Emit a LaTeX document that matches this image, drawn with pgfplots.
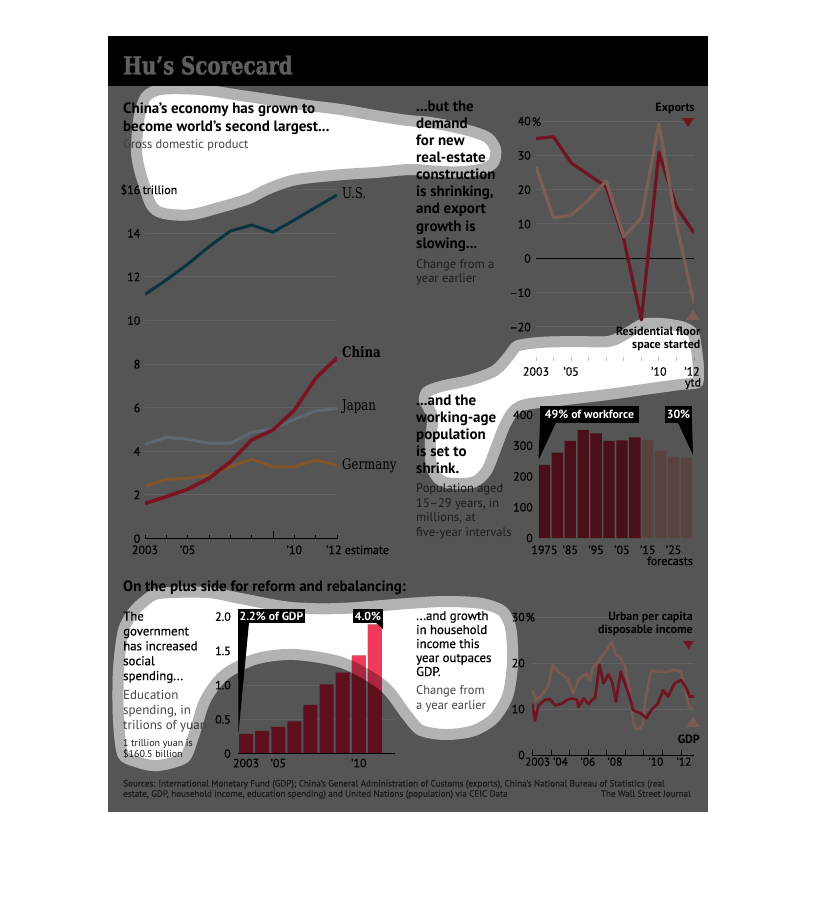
\documentclass[border=0pt]{standalone}
\usepackage{pgfplots}
\pgfplotsset{compat=1.18}
\usepackage{fontspec}
\setmainfont{PT Sans}
\newfontfamily\med[FakeBold=0.6]{PT Sans}
\newfontfamily\slab[FakeStretch=0.8]{DejaVu Serif}
\newfontfamily\slabT[FakeStretch=0.8,FakeBold=1.5]{DejaVu Serif}

\definecolor{bg}{HTML}{555555}
\definecolor{ttl}{HTML}{5F5F5F}
\definecolor{us}{HTML}{0A3540}
\definecolor{cn}{HTML}{7A1423}
\definecolor{jp}{HTML}{5D6872}
\definecolor{de}{HTML}{80552C}
\definecolor{ex}{HTML}{701422}
\definecolor{rs}{HTML}{7C5E54}
\definecolor{popA}{HTML}{4A0F19}
\definecolor{popB}{HTML}{5A423E}
\definecolor{eduA}{HTML}{5C111D}
\definecolor{eduB}{HTML}{F03A5C}
\definecolor{gdpc}{HTML}{7A5A50}
\definecolor{tkg}{HTML}{C4C4C4}
\definecolor{gA}{HTML}{444444}
\definecolor{gB}{HTML}{1C1C1C}

\newcommand\hd{\fontsize{15}{17}\selectfont\bfseries}
\newcommand\tx{\fontsize{12.5}{15}\selectfont}
\newcommand\tk{\med\fontsize{12}{12}\selectfont}
\newcommand\tks{\med\fontsize{11.5}{12}\selectfont}
\newcommand\lgd{\fontsize{12}{13}\selectfont\bfseries}
\newcommand\smt{\fontsize{10}{11}\selectfont}
\newcommand\src{\med\fontsize{9.1}{10.5}\selectfont}
\newcommand\cl{\fontsize{11.8}{12}\selectfont\bfseries}
\newcommand\srf{\slab\fontsize{14.7}{15}\selectfont}
\newcommand\bt{\med\fontsize{12.8}{15}\selectfont}

\newcommand\T[5][]{\node[anchor=base west,inner sep=0pt,font=#2,#1] at (#3,-#4) {#5};}
\newcommand\TR[5][]{\node[anchor=base east,inner sep=0pt,font=#2,#1] at (#3,-#4) {#5};}

\tikzset{
 blobA/.style={insert path={plot[smooth cycle] coordinates{(131,-150) (134,-115) (142,-93) (160,-84) (200,-84) (241,-90) (275,-95) (308,-100) (341,-104) (375,-110) (408,-115) (430,-117) (452,-121) (476,-127) (492,-134) (501,-148) (499,-164) (488,-173) (465,-177) (440,-177) (410,-175) (375,-178) (343,-180) (297,-185) (270,-194) (250,-204) (220,-213) (193,-220) (170,-220) (155,-216) (146,-207) (140,-190) (134,-170)}}},
 blobC/.style={insert path={plot[smooth cycle] coordinates{(505,-352) (515,-341) (540,-337) (575,-336) (608,-336) (625,-328) (641,-319) (661,-318) (685,-322) (698,-331) (702,-350) (704,-372) (701,-387) (680,-390) (658,-393) (608,-400) (558,-406) (523,-411) (511,-425) (501,-450) (491,-474) (476,-487) (451,-489) (435,-483) (426,-467) (425,-440) (427,-418) (419,-401) (423,-388) (440,-381) (468,-375) (492,-366)}}},
 blobD/.style={insert path={plot[smooth cycle] coordinates{(128,-610) (141,-597) (158,-588) (208,-587) (241,-593) (291,-602) (341,-603) (408,-598) (445,-596) (482,-598) (506,-607) (516,-627) (518,-662) (513,-697) (498,-722) (475,-736) (445,-740) (418,-735) (402,-718) (380,-690) (341,-668) (295,-660) (258,-664) (228,-679) (210,-703) (199,-737) (188,-762) (158,-771) (135,-767) (118,-757) (113,-720) (113,-670) (118,-630)}}},
}

\pgfplotsset{
 wsj/.style={scale only axis, anchor=south west, axis line style={draw=none},
  tick label style={font=\tk}, /pgf/number format/assume math mode=true,
  ytick style={draw=none}, xtick pos=bottom, tick align=inside,
  grid style={white, opacity=0.08, line width=1pt},
  xticklabel style={anchor=base, inner sep=0pt},
  yticklabel style={anchor=base east, inner sep=0pt, yshift=-4.3pt}},
 eduGeom/.style={wsj, at={(238pt,-753.5pt)}, width=157pt, height=137pt,
  xmin=-0.5, xmax=9.245, ymin=0, ymax=2},
}

\begin{document}
\begin{tikzpicture}[x=1pt,y=1pt]
\path[use as bounding box] (0,0) rectangle (816,-906);
\fill[white] (0,0) rectangle (816,-906);
\fill[bg] (108,-36) rectangle (708,-812);
\fill[white,blobA];
\fill[white,blobC];
\fill[white,blobD];

% ---------- GDP ----------
\T{\hd}{123}{113}{China’s economy has grown to}
\T{\hd}{123}{131}{become world’s second largest...}
\T[text=gA]{\tx}{123}{148}{Gross domestic product}
\begin{axis}[wsj, at={(145pt,-538.5pt)}, width=192pt, height=348.8pt,
 xmin=2003, xmax=2012, ymin=0, ymax=16,
 ytick={0,2,4,6,8,10,12,14,16}, yticklabels={0,2,4,6,8,10,12,14,\$16},
 yticklabel style={xshift=-4.5pt}, ymajorgrids,
 xtick={2003,2004,2005,2006,2007,2008,2009,2010,2011,2012}, xticklabels={2003,,’05,,,,,’10,,},
 xticklabel style={yshift=-15.5pt},
 major tick length=4pt, xtick style={black, line width=0.8pt},
 extra x ticks={2009}, extra x tick labels={}, extra x tick style={major tick length=8pt}]
\draw[black, line width=0.9pt] (rel axis cs:0,0) -- (rel axis cs:1,0);
\addplot[us, line width=3pt, line join=round] coordinates {(2003,11.2)(2004,11.86)(2005,12.58)(2006,13.39)(2007,14.1)(2008,14.38)(2009,14.05)(2010,14.61)(2011,15.19)(2012,15.76)};
\addplot[de, line width=3pt, line join=round] coordinates {(2003,2.41)(2004,2.71)(2005,2.76)(2006,2.91)(2007,3.29)(2008,3.63)(2009,3.29)(2010,3.29)(2011,3.6)(2012,3.36)};
\addplot[jp, line width=3pt, line join=round] coordinates {(2003,4.32)(2004,4.64)(2005,4.55)(2006,4.37)(2007,4.37)(2008,4.87)(2009,5.02)(2010,5.47)(2011,5.85)(2012,5.97)};
\addplot[cn, line width=3.6pt, line join=round] coordinates {(2003,1.61)(2004,1.92)(2005,2.26)(2006,2.76)(2007,3.52)(2008,4.52)(2009,4.98)(2010,5.89)(2011,7.35)(2012,8.29)};
\end{axis}
\T{\tk}{142.5}{194}{trillion}
\T{\tk}{326}{554}{’12 estimate}
\node[anchor=west,inner sep=0pt,font=\srf] at (342,-193) {U.S.};
\node[anchor=west,inner sep=0pt,font=\srf\bfseries] at (342,-352) {China};
\node[anchor=west,inner sep=0pt,font=\srf] at (342,-407) {Japan};
\node[anchor=west,inner sep=0pt,font=\srf] at (342,-466) {Germany};

% ---------- Exports ----------
\T{\hd}{416}{111.7}{...but the}
\T{\hd}{416}{128.7}{demand}
\T{\hd}{416}{145.8}{for new}
\T{\hd}{416}{162.8}{real-estate}
\T{\hd}{416}{179.9}{construction}
\T{\hd}{416}{196.9}{is shrinking,}
\T{\hd}{416}{213.9}{and export}
\T{\hd}{416}{231.0}{growth is}
\T{\hd}{416}{248.0}{slowing...}
\T[text=gB]{\tx}{416}{268.3}{Change from a}
\T[text=gB]{\tx}{416}{282.7}{year earlier}
\begin{axis}[wsj, at={(536pt,-361.3pt)}, width=158pt, height=240.3pt,
 xmin=2003, xmax=2012, ymin=-30, ymax=40,
 ytick={-20,-10,0,10,20,30,40}, yticklabels={–20,–10,0,10,20,30,40},
 yticklabel style={xshift=-5pt}, ymajorgrids,
 xtick={2003,2004,2005,2006,2007,2008,2009,2010,2011,2012}, xticklabels={2003,,’05,,,,,’10,,},
 major tick length=4pt, xtick style={tkg, line width=0.8pt},
 xticklabel style={yshift=-14.4pt}]
\draw[black, line width=0.9pt] (axis cs:2003,0) -- (axis cs:2012,0);
\addplot[ex, line width=3.2pt, line join=round] coordinates {(2003,34.9)(2004,35.4)(2005,27.8)(2006,24.3)(2007,20.8)(2008,5.5)(2009,-17.9)(2010,30.8)(2011,15.0)(2012,7.4)};
\addplot[rs, line width=3.2pt, line join=round] coordinates {(2003,26.6)(2004,11.8)(2005,12.6)(2006,17.0)(2007,22.6)(2008,6.3)(2009,11.8)(2010,39.2)(2011,10.0)(2012,-13.1)};
\end{axis}
\T{\tk}{531.5}{126}{\%}
\node[anchor=base,inner sep=0pt,font=\tk] at (692,-375.7) {’12};
\node[anchor=base,inner sep=0pt,font=\tk] at (693,-386.5) {ytd};
\TR{\lgd}{695}{111}{Exports}
\fill[ex] (682,-118) -- (694,-118) -- (688,-127) -- cycle;
\TR{\lgd}{700.5}{335}{Residential floor}
\TR{\lgd}{700.5}{348}{space started}
\fill[rs] (686,-320) -- (700,-320) -- (693,-310) -- cycle;

% ---------- Population ----------
\T{\hd}{416}{405}{...and the}
\T{\hd}{416}{422.1}{working-age}
\T{\hd}{416}{439.2}{population}
\T{\hd}{416}{456.3}{is set to}
\T{\hd}{416}{473.4}{shrink.}
\T[text=gB]{\tx}{416}{492.7}{Population aged}
\T[text=gB]{\tx}{416}{507.2}{15–29 years, in}
\T[text=gB]{\tx}{416}{521.7}{millions, at}
\T[text=gB]{\tx}{416}{536.2}{five-year intervals}
\begin{axis}[wsj, at={(538pt,-538pt)}, width=155pt, height=129.4pt,
 xmin=-0.5, xmax=11.5, ymin=0, ymax=420,
 ytick={0,100,200,300,400}, yticklabels={0,100,200,300,400},
 yticklabel style={xshift=-5pt},
 xtick={0,2,4,6,8,10}, xticklabels={1975,’85,’95,’05,’15,’25},
 xtick style={draw=none}, xticklabel style={yshift=-16pt}]
\addplot[ybar, bar width=11.4pt, bar shift=0pt, fill=popA, draw=none] coordinates {(0,237)(1,277)(2,315)(3,351)(4,340)(5,315)(6,317)(7,327)};
\addplot[ybar, bar width=11.4pt, bar shift=0pt, fill=popB, draw=none] coordinates {(8,318)(9,283)(10,264)(11,261)};
\end{axis}
\node[anchor=base,inner sep=0pt,font=\tk] at (670,-565) {forecasts};
\fill[black] (540,-405.7) rectangle (639,-422.7);
\fill[black] (540,-422.5) -- (556,-422.5) -- (538.5,-460) -- cycle;
\node[text=white,inner sep=0pt,font=\cl] at (589.5,-414.2) {49\% of workforce};
\fill[black] (665,-405.7) rectangle (692,-422.7);
\fill[black] (678,-422.5) -- (692,-422.5) -- (693,-455) -- cycle;
\node[text=white,inner sep=0pt,font=\cl] at (678.5,-414.2) {30\%};

% ---------- Section header ----------
\T{\hd}{123}{591.5}{On the plus side for reform and rebalancing:}

% ---------- Education ----------
\T{\bt}{123}{620.5}{The}
\T{\bt}{123}{635.4}{government}
\T{\bt}{123}{650.3}{has increased}
\T{\bt}{123}{665.2}{social}
\T{\bt}{123}{680.1}{spending...}
\T[text=gA]{\fontsize{13}{15}\selectfont}{123}{699.3}{Education}
\T[text=gA]{\fontsize{13}{15}\selectfont}{123}{714.3}{spending, in}
\T[text=gA]{\fontsize{13}{15}\selectfont}{123}{729.3}{trilions of yuan}
\T[text=gB]{\smt}{123}{746.7}{1 trillion yuan is}
\T[text=gB]{\smt}{123}{757.7}{\$160.5 billion}
\begin{axis}[eduGeom,
 ytick={0,0.5,1,1.5,2}, yticklabels={0,0.5,1.0,1.5,2.0},
 yticklabel style={xshift=-7pt}, ymajorgrids,
 xtick={0,2,7}, xticklabels={2003,’05,’10},
 xtick style={draw=none}, xticklabel style={yshift=-13.8pt}]
\addplot[ybar, bar width=14pt, bar shift=0pt, fill=eduA, draw=none] coordinates {(0,0.285)(1,0.33)(2,0.39)(3,0.47)(4,0.71)(5,1.01)(6,1.18)(7,1.43)(8,1.88)};
\draw[black, line width=1pt] (rel axis cs:0,0) -- (rel axis cs:1,0);
\end{axis}
\begin{scope}
\path[clip,blobD];
\begin{axis}[eduGeom, xtick=\empty, ytick=\empty]
\addplot[ybar, bar width=14pt, bar shift=0pt, fill=eduB, draw=none] coordinates {(0,0.285)(1,0.33)(2,0.39)(3,0.47)(4,0.71)(5,1.01)(6,1.18)(7,1.43)(8,1.88)};
\end{axis}
\end{scope}
\fill[black] (238,-609) rectangle (305,-623);
\fill[black] (238,-622.8) -- (249,-622.8) -- (238.5,-733) -- cycle;
\node[text=white,inner sep=0pt,font=\cl] at (271.5,-616) {2.2\% of GDP};
\fill[black] (353,-609) rectangle (383,-623);
\fill[black] (376,-622.8) -- (383,-622.8) -- (383,-629) -- cycle;
\node[text=white,inner sep=0pt,font=\cl] at (368,-616) {4.0\%};

% ---------- Household income ----------
\T{\bt}{416}{620}{...and growth}
\T{\bt}{416}{634}{in household}
\T{\bt}{416}{648}{income this}
\T{\bt}{416}{662}{year outpaces}
\T{\bt}{416}{676}{GDP.}
\T[text=gA]{\tx}{416}{694.3}{Change from}
\T[text=gA]{\tx}{416}{709.3}{a year earlier}
\begin{axis}[wsj, at={(532pt,-755pt)}, width=162pt, height=138pt,
 xmin=2003, xmax=2012.53, ymin=0, ymax=30,
 ytick={0,10,20,30}, yticklabels={0,10,20,30},
 yticklabel style={xshift=-7pt}, ymajorgrids,
 xtick={2003.33,2004.68,2006.29,2007.88,2010.29,2011.94},
 xticklabels={2003,’04,’06,’08,’10,’12},
 xticklabel style={font=\tks},
 major tick length=0pt,
 minor xtick={2003.02,2004.12,2005.21,2006.30,2007.39,2008.49,2009.58,2010.67,2011.76},
 minor tick length=5pt, minor tick style={black, line width=0.8pt},
 xticklabel style={yshift=-10.7pt}]
\draw[black, line width=1pt] (rel axis cs:0,0) -- (rel axis cs:1,0);
\addplot[gdpc, line width=2.7pt, line join=round] coordinates {(2003.00,14.1)(2003.26,11.8)(2003.66,13.4)(2003.96,15.2)(2004.22,19.6)(2004.55,18.1)(2004.84,17.4)(2005.14,16.3)(2005.43,13.4)(2005.72,16.3)(2005.92,17.0)(2006.18,17.7)(2006.41,16.3)(2006.61,19.2)(2006.90,20.3)(2007.39,22.8)(2007.69,24.6)(2007.94,21.7)(2008.18,21.4)(2008.47,19.2)(2008.76,14.1)(2008.97,7.0)(2009.12,5.6)(2009.35,5.7)(2009.53,6.8)(2009.66,11.9)(2010.02,18.5)(2010.31,18.1)(2010.90,18.1)(2011.39,18.5)(2011.78,18.1)(2011.98,14.9)(2012.18,11.2)(2012.34,10.1)(2012.53,9.9)};
\addplot[ex, line width=2.7pt, line join=round] coordinates {(2003.00,11.2)(2003.18,7.5)(2003.38,10.8)(2003.76,12.0)(2004.06,12.1)(2004.35,10.8)(2004.76,11.2)(2005.06,12.0)(2005.35,12.3)(2005.65,12.0)(2005.74,10.5)(2006.03,12.3)(2006.32,11.1)(2006.53,12.0)(2006.71,12.3)(2006.97,19.6)(2007.21,15.6)(2007.50,17.5)(2007.71,16.0)(2007.94,11.6)(2008.22,18.1)(2008.47,15.5)(2008.74,12.7)(2008.94,9.8)(2009.41,9.0)(2009.72,8.0)(2010.02,9.8)(2010.41,11.2)(2010.71,14.1)(2011.00,12.7)(2011.39,15.6)(2011.78,16.3)(2012.08,14.5)(2012.28,12.7)(2012.53,12.7)};
\end{axis}
\T{\tk}{525.5}{621.3}{\%}
\TR{\lgd}{693}{620}{Urban per capita}
\TR{\lgd}{693}{633.3}{disposable income}
\fill[ex] (683,-641) -- (694,-641) -- (688.5,-649) -- cycle;
\fill[gdpc] (686,-727) -- (700,-727) -- (693,-717) -- cycle;
\TR{\lgd}{700}{743.3}{GDP}

% ---------- Sources ----------
\T[text=gB]{\src}{123}{786.5}{Sources: International Monetary Fund (GDP); China’s General Administration of Customs (exports), China’s National Bureau of Statistics (real}
\T[text=gB]{\src}{123}{796.7}{estate, GDP, household income, education spending) and United Nations (population) via CEIC Data}
\TR[text=gB]{\src}{691}{796.7}{The Wall Street Journal}

% ---------- halos ----------
\begin{scope}\path[clip,blobA]; \draw[black,opacity=0.3,line width=22pt,blobA]; \end{scope}
\begin{scope}\path[clip,blobC]; \draw[black,opacity=0.3,line width=22pt,blobC]; \end{scope}
\begin{scope}\path[clip,blobD]; \draw[black,opacity=0.3,line width=22pt,blobD]; \end{scope}
\fill[black] (108,-36) rectangle (708,-86);
\T[text=ttl]{\slabT\bfseries\fontsize{24.7}{25}\selectfont}{123}{74.3}{Hu’s Scorecard}
\end{tikzpicture}
\end{document}
